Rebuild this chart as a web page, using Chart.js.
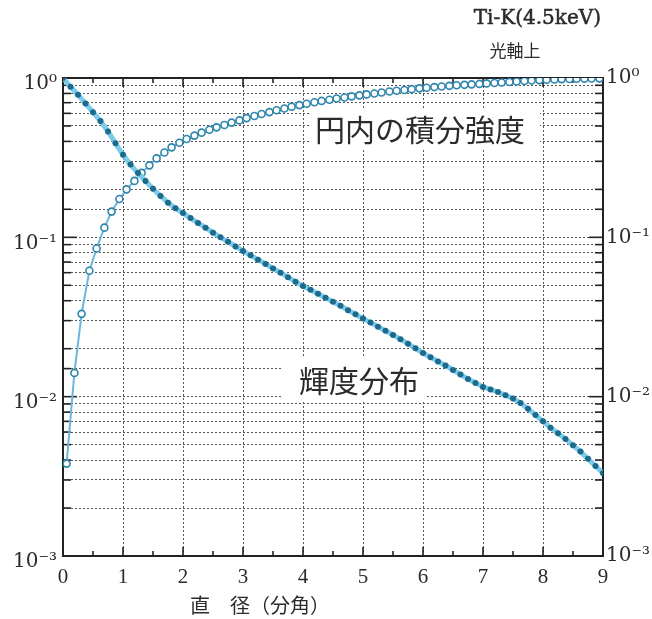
<!DOCTYPE html>
<html>
<head>
<meta charset="utf-8">
<script src="https://cdn.jsdelivr.net/npm/chart.js@4"></script>
<style>
html, body { margin: 0; padding: 0; background: #fff; }
</style>
</head>
<body>
<canvas id="psfChart" width="652" height="619"></canvas>
<script>
// 直径 (分角) -- 輝度分布
const brightX = [
  0, 0.125, 0.25, 0.375, 0.5, 0.625, 0.75, 0.875,
  1, 1.125, 1.25, 1.375, 1.5, 1.625, 1.75, 1.875,
  2, 2.125, 2.25, 2.375, 2.5, 2.625, 2.75, 2.875,
  3, 3.125, 3.25, 3.375, 3.5, 3.625, 3.75, 3.875,
  4, 4.125, 4.25, 4.375, 4.5, 4.625, 4.75, 4.875,
  5, 5.125, 5.25, 5.375, 5.5, 5.625, 5.75, 5.875,
  6, 6.125, 6.25, 6.375, 6.5, 6.625, 6.75, 6.875,
  7, 7.125, 7.25, 7.375, 7.5, 7.625, 7.75, 7.875,
  8, 8.125, 8.25, 8.375, 8.5, 8.625, 8.75, 8.875,
  9
];
const brightY = [
  1.000, 0.881, 0.785, 0.692, 0.610, 0.537, 0.462, 0.389,
  0.330, 0.286, 0.253, 0.226, 0.202, 0.182, 0.165, 0.152,
  0.142, 0.132, 0.123, 0.115, 0.107, 0.100, 0.0938, 0.0877,
  0.0822, 0.0771, 0.0724, 0.0681, 0.0638, 0.0600, 0.0562, 0.0527,
  0.0495, 0.0468, 0.0442, 0.0417, 0.0394, 0.0372, 0.0349, 0.0329,
  0.0309, 0.0292, 0.0275, 0.0259, 0.0244, 0.0229, 0.0215, 0.0201,
  0.0188, 0.0177, 0.0166, 0.0157, 0.0147, 0.0138, 0.0129, 0.0122,
  0.0115, 0.0111, 0.0107, 0.0102, 0.00973, 0.00912, 0.00841, 0.00767,
  0.00700, 0.00638, 0.00589, 0.00543, 0.00495, 0.00452, 0.00407, 0.00367,
  0.00331
];

// 円内の積分強度
const encX = [
  0.06, 0.19, 0.31, 0.44, 0.56, 0.69, 0.81, 0.94,
  1.06, 1.19, 1.31, 1.44, 1.56, 1.69, 1.81, 1.94,
  2.06, 2.19, 2.31, 2.44, 2.56, 2.69, 2.81, 2.94,
  3.06, 3.19, 3.31, 3.44, 3.56, 3.69, 3.81, 3.94,
  4.06, 4.19, 4.31, 4.44, 4.56, 4.69, 4.81, 4.94,
  5.06, 5.19, 5.31, 5.44, 5.56, 5.69, 5.81, 5.94,
  6.06, 6.19, 6.31, 6.44, 6.56, 6.69, 6.81, 6.94,
  7.06, 7.19, 7.31, 7.44, 7.56, 7.69, 7.81, 7.94,
  8.06, 8.19, 8.31, 8.44, 8.56, 8.69, 8.81, 8.94
];
const encY = [
  0.0038, 0.0141, 0.0331, 0.0617, 0.0851, 0.115, 0.145, 0.174,
  0.200, 0.226, 0.254, 0.283, 0.313, 0.341, 0.367, 0.392,
  0.414, 0.435, 0.454, 0.473, 0.490, 0.507, 0.525, 0.542,
  0.560, 0.577, 0.594, 0.611, 0.628, 0.644, 0.661, 0.676,
  0.690, 0.705, 0.718, 0.731, 0.743, 0.755, 0.767, 0.778,
  0.789, 0.800, 0.811, 0.822, 0.832, 0.841, 0.851, 0.861,
  0.869, 0.877, 0.885, 0.893, 0.900, 0.906, 0.912, 0.918,
  0.925, 0.931, 0.938, 0.944, 0.951, 0.957, 0.964, 0.970,
  0.975, 0.979, 0.984, 0.986, 0.989, 0.991, 0.993, 0.995
];

const xTickLabels = ['0', '1', '2', '3', '4', '5', '6', '7', '8', '9'];
const titleLines = ['Ti-K(4.5keV)', '光軸上'];
const xAxisTitle = '直　径（分角）';
const seriesNames = ['円内の積分強度', '輝度分布'];

const SERIF = '"Liberation Serif", "DejaVu Serif", serif';
const DSERIF = '"DejaVu Serif", serif';
const JP = '"Noto Sans CJK JP", sans-serif';
const TEXT = '#2b2b2b';

function supText(n) {
  const map = { '-': '⁻', '0': '⁰', '1': '¹', '2': '²', '3': '³' };
  return String(n).split('').map(c => map[c]).join('');
}
function powLabel(v) {
  const lg = Math.log10(v);
  const e = Math.round(lg);
  return Math.abs(lg - e) < 1e-6 ? '10' + supText(e) : '';
}
function isPow10(v) {
  const lg = Math.log10(v);
  return Math.abs(lg - Math.round(lg)) < 1e-6;
}

// 枠・内向き目盛り・文字の白抜き
const frameAndLabels = {
  id: 'frameAndLabels',
  beforeDatasetsDraw(chart) {
    const { ctx, chartArea: a, scales } = chart;
    ctx.save();
    // 文字の下地
    ctx.fillStyle = '#fff';
    ctx.fillRect(310, 108, 230, 42);
    ctx.fillRect(283, 358, 144, 42);

    ctx.strokeStyle = '#222';
    ctx.lineWidth = 1.6;
    const seg = (x1, y1, x2, y2) => { ctx.beginPath(); ctx.moveTo(x1, y1); ctx.lineTo(x2, y2); ctx.stroke(); };
    scales.x.ticks.forEach(t => {
      const px = scales.x.getPixelForValue(t.value);
      const len = Number.isInteger(t.value) ? 9 : 5;
      seg(px, a.bottom, px, a.bottom - len);
      seg(px, a.top, px, a.top + len);
    });
    scales.y.ticks.forEach(t => {
      const py = scales.y.getPixelForValue(t.value);
      const len = isPow10(t.value) ? 14 : 8;
      seg(a.left, py, a.left + len, py);
      seg(a.right, py, a.right - len, py);
    });
    ctx.lineWidth = 2;
    ctx.strokeRect(a.left, a.top, a.right - a.left, a.bottom - a.top);
    ctx.restore();
  },
  afterDraw(chart) {
    const { ctx } = chart;
    ctx.save();
    ctx.fillStyle = TEXT;
    ctx.strokeStyle = TEXT;
    ctx.lineWidth = 0.5;
    ctx.textBaseline = 'middle';
    ctx.textAlign = 'right';
    ctx.font = '20px ' + DSERIF;
    ctx.fillText(titleLines[0], 601, 19);
    ctx.strokeText(titleLines[0], 601, 19);
    ctx.textAlign = 'center';
    ctx.font = '17px ' + JP;
    ctx.fillText(titleLines[1], 515, 51);
    ctx.textAlign = 'left';
    ctx.font = '30px ' + JP;
    ctx.fillText(seriesNames[0], 315, 130);
    ctx.fillText(seriesNames[1], 299, 381);
    ctx.font = '20px ' + JP;
    ctx.fillText(xAxisTitle, 190, 605);
    ctx.restore();
  }
};

new Chart(document.getElementById('psfChart'), {
  type: 'line',
  data: {
    datasets: [
      {
        label: seriesNames[1],
        data: brightX.map((x, i) => ({ x: x, y: brightY[i] })),
        borderColor: '#7ccbea',
        borderWidth: 5,
        pointRadius: 3,
        pointBackgroundColor: '#1d6b8c',
        pointBorderColor: '#1d6b8c',
        pointBorderWidth: 0,
        tension: 0
      },
      {
        label: seriesNames[0],
        data: encX.map((x, i) => ({ x: x, y: encY[i] })),
        borderColor: '#6bb7dc',
        borderWidth: 2,
        pointRadius: 3.5,
        pointBackgroundColor: '#ffffff',
        pointBorderColor: '#2f86ad',
        pointBorderWidth: 1.6,
        tension: 0
      }
    ]
  },
  options: {
    responsive: false,
    animation: false,
    devicePixelRatio: 1,
    layout: { padding: { top: 78, right: 0, left: 0, bottom: 0 } },
    plugins: { legend: { display: false }, tooltip: { enabled: false } },
    scales: {
      x: {
        type: 'linear',
        min: 0,
        max: 9,
        afterFit: s => { s.height = 63; },
        border: { display: false, dash: [2, 2] },
        grid: {
          drawTicks: false,
          lineWidth: 1,
          color: c => (c.tick && Number.isInteger(c.tick.value) ? '#555' : 'rgba(0,0,0,0)')
        },
        ticks: {
          stepSize: 0.5,
          autoSkip: false,
          maxRotation: 0,
          padding: 9,
          color: TEXT,
          font: { family: SERIF, size: 21 },
          callback: v => (Number.isInteger(v) ? xTickLabels[v] : '')
        }
      },
      y: {
        type: 'logarithmic',
        position: 'left',
        min: 0.001,
        max: 1,
        afterFit: s => { s.width = 63; },
        border: { display: false, dash: [2, 2] },
        grid: { drawTicks: false, lineWidth: 1, color: '#555' },
        ticks: {
          autoSkip: false,
          padding: 6,
          labelOffset: 6,
          color: TEXT,
          font: { family: DSERIF, size: 20 },
          callback: powLabel
        }
      },
      y2: {
        type: 'logarithmic',
        position: 'right',
        min: 0.001,
        max: 1,
        afterFit: s => { s.width = 49; },
        border: { display: false },
        grid: { display: false, drawTicks: false },
        ticks: {
          autoSkip: false,
          padding: 3,
          color: TEXT,
          font: { family: DSERIF, size: 20 },
          callback: powLabel
        }
      }
    }
  },
  plugins: [frameAndLabels]
});
</script>
</body>
</html>
